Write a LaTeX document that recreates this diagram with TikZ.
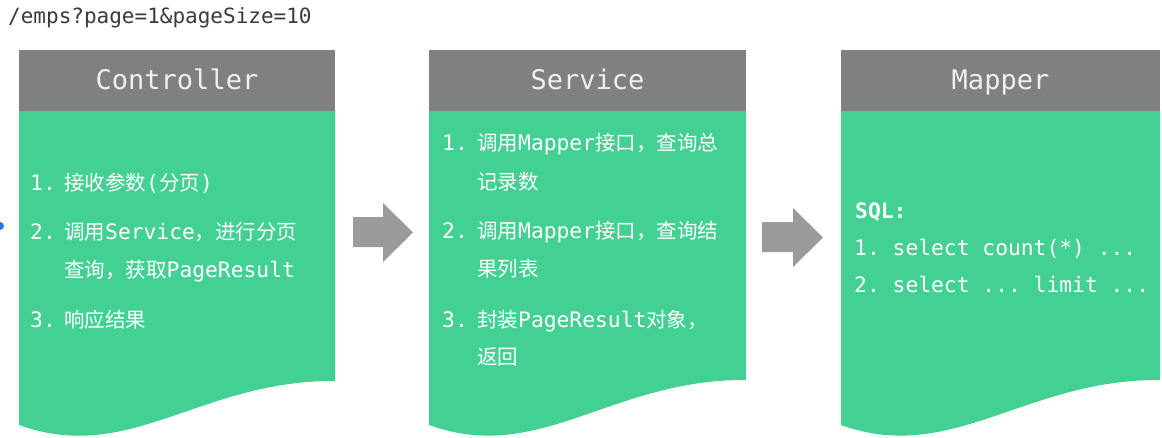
\documentclass[tikz,border=0pt]{standalone}
\usepackage{fontspec}
\setmainfont{DejaVu Sans Mono}
\newfontfamily\cjk{Noto Sans CJK SC}
\definecolor{boxgreen}{HTML}{43D093}
\definecolor{headgray}{HTML}{808080}
\definecolor{arrowgray}{HTML}{9B9B9B}
\definecolor{urlgray}{HTML}{3A3A3A}
\definecolor{dotblue}{HTML}{2A7AE2}
\definecolor{headtxt}{HTML}{F0F0F0}
\newcommand\zh[1]{{\fontsize{20.5}{20.5}\cjk #1}}
\tikzset{
  headtext/.style={anchor=base, inner sep=0pt, text=headtxt, font=\fontsize{27}{27}\selectfont\frenchspacing},
  bodytext/.style={anchor=base west, inner sep=0pt, text=white, font=\fontsize{21.3}{21.3}\selectfont\frenchspacing},
  urltext/.style={anchor=base west, inner sep=0pt, text=urlgray, font=\fontsize{21}{21}\selectfont\frenchspacing},
  panel/.style={fill=boxgreen},
  header/.style={fill=headgray},
  blockarrow/.style={fill=arrowgray}
}
\begin{document}
\begin{tikzpicture}[x=1pt,y=-1pt]
\useasboundingbox (0,0) rectangle (1162,437);
\clip (0,0) rectangle (1162,437);
\fill[white] (0,0) rectangle (1162,437);

% panels with wavy bottoms
\fill[panel] (19,110) -- (335,110) -- (335,381) .. controls (200,380) and (130,465) .. (19,425) -- cycle;
\fill[panel] (429,110) -- (746,110) -- (746,380) .. controls (611,379) and (540,465) .. (429,425) -- cycle;
\fill[panel] (841,110) -- (1160,110) -- (1160,380) .. controls (1025,379) and (952,465) .. (841,425) -- cycle;

% headers
\fill[header] (19,50) rectangle (335,111);
\fill[header] (429,50) rectangle (746,111);
\fill[header] (841,50) rectangle (1160,111);

% block arrows
\fill[blockarrow] (353,217) -- (383,217) -- (383,203) -- (413,232.5) -- (383,262) -- (383,247) -- (353,247) -- cycle;
\fill[blockarrow] (762,222) -- (793,222) -- (793,208) -- (823,237.5) -- (793,267) -- (793,252) -- (762,252) -- cycle;

% small blue dot at the left edge
\fill[dotblue] (0,226) circle (4);

% URL
\node[urltext] (url) at (8,23) {/emps?page=1\&pageSize=10};

% header labels
\node[headtext] (ch) at (177,89) {Controller};
\node[headtext] (sh) at (587.5,89) {Service};
\node[headtext] (mh) at (1000.5,89) {Mapper};

% Controller body
\node[bodytext] (c1n) at (30,190) {1.};
\node[bodytext] (c1t) at (64,190) {\zh{接收参数}(\zh{分页})};
\node[bodytext] (c2n) at (30,239) {2.};
\node[bodytext] (c2t) at (64,239) {\zh{调用}Service\zh{，进行分页}};
\node[bodytext] (c2u) at (64,277) {\zh{查询，获取}PageResult};
\node[bodytext] (c3n) at (30,327) {3.};
\node[bodytext] (c3t) at (64,327) {\zh{响应结果}};

% Service body
\node[bodytext] (s1n) at (442,150) {1.};
\node[bodytext] (s1t) at (477,150) {\zh{调用}Mapper\zh{接口，查询总}};
\node[bodytext] (s1u) at (477,189) {\zh{记录数}};
\node[bodytext] (s2n) at (442,238) {2.};
\node[bodytext] (s2t) at (477,238) {\zh{调用}Mapper\zh{接口，查询结}};
\node[bodytext] (s2u) at (477,276) {\zh{果列表}};
\node[bodytext] (s3n) at (442,327) {3.};
\node[bodytext] (s3t) at (477,327) {\zh{封装}PageResult\zh{对象，}};
\node[bodytext] (s3u) at (477,364) {\zh{返回}};

% Mapper body
\node[bodytext] (sql) at (855,218) {\bfseries SQL:};
\node[bodytext] (m1) at (854,255) {1. select count(*) ...};
\node[bodytext] (m2) at (854,292) {2. select ... limit ...};
\end{tikzpicture}
\end{document}
